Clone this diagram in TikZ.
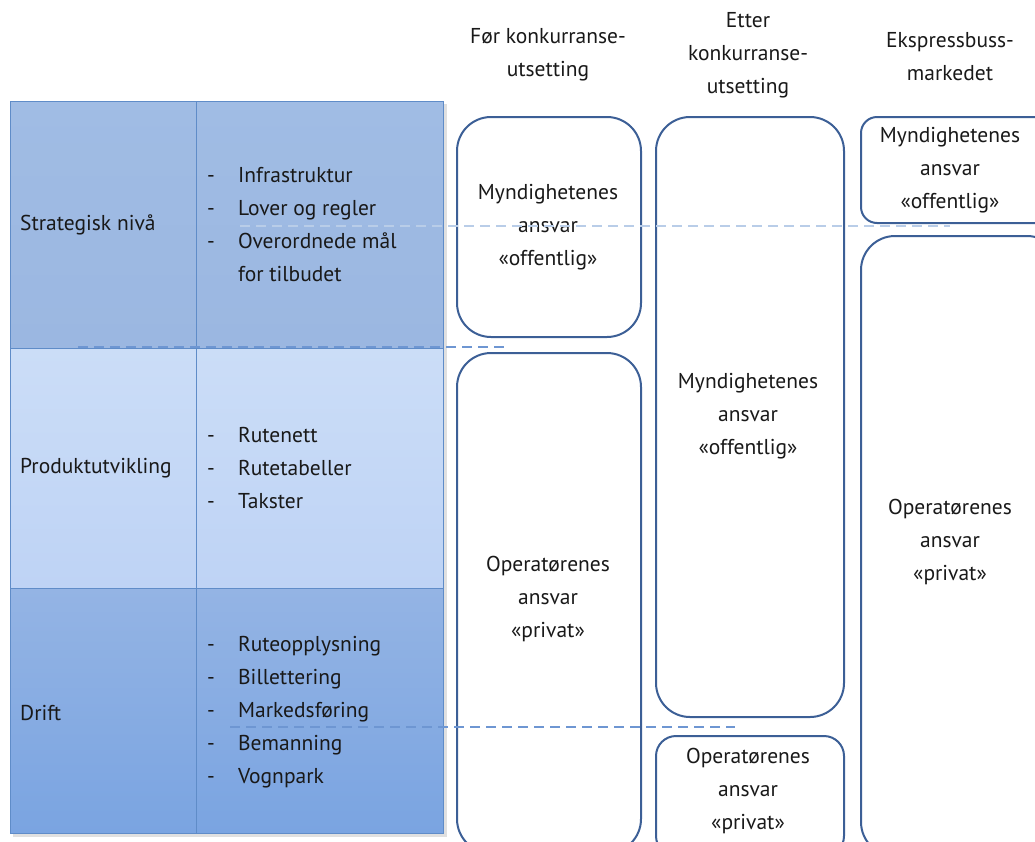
\documentclass[tikz,border=0pt]{standalone}
\usepackage{fontspec}
\setmainfont{PT Sans}
\begin{document}
\begin{tikzpicture}[x=1pt,y=-1pt,
  every node/.style={font=\fontsize{21.5}{33}\selectfont, inner sep=0pt},
  cell/.style={draw=tabline, line width=0.8pt, anchor=north west},
  rbox/.style={draw=boxline, line width=2pt, rounded corners=#1, anchor=north west, fill=white},
  rbox/.default=34pt,
  lbl/.style={align=center, text=black!90},
  hdr/.style={align=center, text=black!90},
  dline/.style={dashed, dash pattern=on 10pt off 6pt, line width=1.6pt}
]
\definecolor{tabline}{RGB}{95,140,200}
\definecolor{boxline}{RGB}{60,95,150}
\definecolor{rowA}{RGB}{160,188,228}
\definecolor{rowAb}{RGB}{155,183,225}
\definecolor{rowB}{RGB}{203,221,247}
\definecolor{rowBb}{RGB}{190,211,245}
\definecolor{rowC}{RGB}{148,180,228}
\definecolor{rowCb}{RGB}{122,164,225}
\definecolor{dashA}{RGB}{185,205,232}
\definecolor{dashB}{RGB}{110,150,210}
\useasboundingbox (0,0) rectangle (1035,841);
\clip (0,0) rectangle (1035,841);
% shadow
\fill[black!12] (13,104) rectangle (447,837);
% table
\node[cell, top color=rowA, bottom color=rowAb, minimum width=186pt, minimum height=247pt] (a1) at (10,101) {};
\node[cell, top color=rowA, bottom color=rowAb, minimum width=247pt, minimum height=247pt] (a2) at (196,101) {};
\node[cell, top color=rowB, bottom color=rowBb, minimum width=186pt, minimum height=240pt] (b1) at (10,348) {};
\node[cell, top color=rowB, bottom color=rowBb, minimum width=247pt, minimum height=240pt] (b2) at (196,348) {};
\node[cell, top color=rowC, bottom color=rowCb, minimum width=186pt, minimum height=245pt] (c1) at (10,588) {};
\node[cell, top color=rowC, bottom color=rowCb, minimum width=247pt, minimum height=245pt] (c2) at (196,588) {};
% row labels
\node[anchor=west, text=black!90] (la) at (20,225) {Strategisk nivå};
\node[anchor=west, text=black!90] (lb) at (20,468) {Produktutvikling};
\node[anchor=west, text=black!90] (lc) at (20,713) {Drift};
% lists
\newcommand{\bul}{\makebox[31pt][l]{-}}
\node[anchor=west, align=left, text=black!90] (ta) at (207,225) {\bul Infrastruktur\\\bul Lover og regler\\\bul Overordnede mål\\\makebox[31pt][l]{}for tilbudet};
\node[anchor=west, align=left, text=black!90] (tb) at (207,468) {\bul Rutenett\\\bul Rutetabeller\\\bul Takster};
\node[anchor=west, align=left, text=black!90] (tc) at (207,712) {\bul Ruteopplysning\\\bul Billettering\\\bul Markedsføring\\\bul Bemanning\\\bul Vognpark};
% headers
\node[hdr] (h1) at (548,55) {Før konkurranse-\\utsetting};
\node[hdr] (h2) at (748,55) {Etter\\konkurranse-\\utsetting};
\node[hdr] (h3) at (950,57) {Ekspressbuss-\\markedet};
% rounded boxes
\node[rbox, minimum width=184pt, minimum height=220pt] (bA) at (456,116) {};
\node[rbox, minimum width=184pt, minimum height=500pt] (bB) at (456,352) {};
\node[rbox, minimum width=188pt, minimum height=600pt] (bC) at (655,116) {};
\node[rbox=20pt, minimum width=188pt, minimum height=120pt] (bD) at (655,735) {};
\node[rbox=16pt, minimum width=200pt, minimum height=106pt] (bE) at (860,116) {};
\node[rbox, minimum width=200pt, minimum height=620pt] (bF) at (860,235) {};
% box texts
\node[lbl] (tA) at (548,227) {Myndighetenes\\ansvar\\«offentlig»};
\node[lbl] (tB) at (548,599) {Operatørenes\\ansvar\\«privat»};
\node[lbl] (tC) at (748,416) {Myndighetenes\\ansvar\\«offentlig»};
\node[lbl] (tD) at (748,791) {Operatørenes\\ansvar\\«privat»};
\node[lbl] (tE) at (950,170) {Myndighetenes\\ansvar\\«offentlig»};
\node[lbl] (tF) at (950,542) {Operatørenes\\ansvar\\«privat»};
% dashed lines
\coordinate (d1s) at (240,226); \coordinate (d1e) at (950,226);
\coordinate (d2s) at (78,347); \coordinate (d2e) at (510,347);
\coordinate (d3s) at (230,727); \coordinate (d3e) at (735,727);
\draw[dline, draw=dashA, line width=2pt] (d1s) -- (d1e);
\draw[dline, draw=dashB] (d2s) -- (d2e);
\draw[dline, draw=dashB, line width=1.2pt] (d3s) -- (d3e);
\end{tikzpicture}
\end{document}
